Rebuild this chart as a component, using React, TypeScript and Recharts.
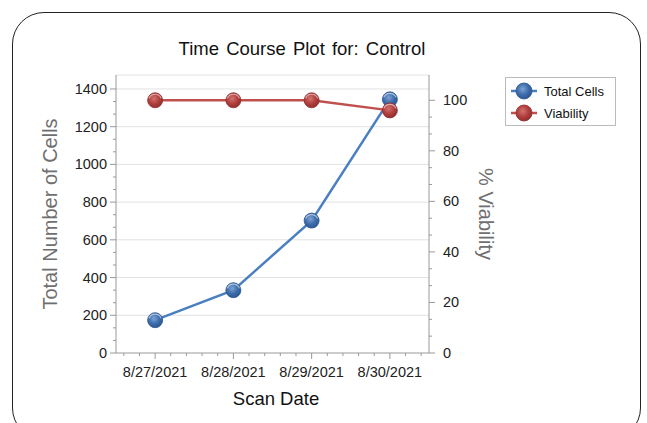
import React from "react";
import { LineChart, Line, XAxis, YAxis, CartesianGrid } from "recharts";

const scanDates = ["8/27/2021", "8/28/2021", "8/29/2021", "8/30/2021"];
const totalCells = [174, 333, 702, 1345];
const viability = [100, 100, 100, 96];

const leftTicks = [0, 200, 400, 600, 800, 1000, 1200, 1400];
const rightTicks = [0, 20, 40, 60, 80, 100];
const xTicks = [-0.4, -0.2, 0, 0.2, 0.4, 0.6, 0.8, 1, 1.2, 1.4, 1.6, 1.8, 2, 2.2, 2.4, 2.6, 2.8, 3, 3.2, 3.4];

const FONT = "'Liberation Sans', Arial, sans-serif";
const BLUE_LINE = "#4a7fc0";
const RED_LINE = "#c0504d";

const data = scanDates.map((d, i) => ({ idx: i, date: d, cells: totalCells[i], viab: viability[i] }));

// minor ticks at thirds between major ticks
const withMinor = (majors: number[]) => {
  const out: number[] = [];
  majors.forEach((m, i) => {
    out.push(m);
    if (i < majors.length - 1) {
      const step = (majors[i + 1] - m) / 3;
      out.push(m + step, m + 2 * step);
    }
  });
  return out;
};
const leftAll = withMinor(leftTicks);
const rightAll = withMinor(rightTicks);
const isMajor = (v: number, majors: number[]) => majors.some((m) => Math.abs(m - v) < 1e-6);

const LeftTick = (props: any) => {
  const { x, y, payload } = props;
  const major = isMajor(payload.value, leftTicks);
  return (
    <g>
      <line x1={x - (major ? 6 : 3)} x2={x} y1={y} y2={y} stroke="#999" />
      {major && (
        <text x={x - 9} y={y} dy={5} textAnchor="end" fontSize={14.5} fill="#222" fontFamily={FONT}>
          {payload.value}
        </text>
      )}
    </g>
  );
};

const RightTick = (props: any) => {
  const { x, y, payload } = props;
  const major = isMajor(payload.value, rightTicks);
  return (
    <g>
      <line x1={x} x2={x + (major ? 6 : 3)} y1={y} y2={y} stroke="#999" />
      {major && (
        <text x={x + 14} y={y} dy={5} textAnchor="start" fontSize={14.5} fill="#222" fontFamily={FONT}>
          {payload.value}
        </text>
      )}
    </g>
  );
};

const BottomTick = (props: any) => {
  const { x, y, payload } = props;
  const major = Math.abs(payload.value - Math.round(payload.value)) < 1e-6;
  return (
    <g>
      <line x1={x} x2={x} y1={y} y2={y + (major ? 6 : 3)} stroke="#999" />
      {major && (
        <text x={x} y={y + 24} textAnchor="middle" fontSize={14.5} fill="#222" fontFamily={FONT}>
          {scanDates[Math.round(payload.value)]}
        </text>
      )}
    </g>
  );
};

const makeDot = (grad: string, edge: string) => (props: any) => {
  const { cx, cy, index } = props;
  if (cx == null || cy == null) return <g key={index} />;
  return (
    <g key={index}>
      <circle cx={cx} cy={cy} r={7.5} fill={`url(#${grad})`} stroke={edge} strokeWidth={0.8} />
      <path
        d={`M ${cx - 6} ${cy - 2} A 6.5 6.5 0 0 1 ${cx + 6} ${cy - 2}`}
        fill="none"
        stroke="#ffffff"
        strokeOpacity={0.55}
        strokeWidth={1.2}
      />
    </g>
  );
};

const LegendMarker = ({ line, grad, edge }: { line: string; grad: string; edge: string }) => (
  <svg width={28} height={20} style={{ display: "block" }}>
    <line x1={1} x2={27} y1={10} y2={10} stroke={line} strokeWidth={2.5} />
    <circle cx={14} cy={10} r={8} fill={`url(#${grad})`} stroke={edge} strokeWidth={0.8} />
  </svg>
);

export default function App() {
  return (
    <div style={{ position: "absolute", left: 0, top: 0, width: 647, height: 423, overflow: "hidden", background: "#fff", fontFamily: FONT }}>
      <svg width={0} height={0} style={{ position: "absolute" }}>
        <defs>
          <radialGradient id="gBlue" cx="42%" cy="38%" r="65%">
            <stop offset="0%" stopColor="#7ea3d6" />
            <stop offset="55%" stopColor="#3e6dab" />
            <stop offset="100%" stopColor="#2c5690" />
          </radialGradient>
          <radialGradient id="gRed" cx="42%" cy="38%" r="65%">
            <stop offset="0%" stopColor="#d27370" />
            <stop offset="55%" stopColor="#b13f3d" />
            <stop offset="100%" stopColor="#8f2e2c" />
          </radialGradient>
        </defs>
      </svg>
      <div
        style={{
          position: "absolute",
          left: 12,
          top: 12,
          width: 627,
          height: 426,
          border: "1.5px solid #222",
          borderRadius: 32,
        }}
      />
      <div style={{ position: "absolute", left: 0, width: 604, top: 38, textAlign: "center", fontSize: 18.5, color: "#111", wordSpacing: 2 }}>
        Time Course Plot for: Control
      </div>
      <div style={{ position: "absolute", left: 0, width: 552, top: 388, textAlign: "center", fontSize: 18.5, color: "#111" }}>
        Scan Date
      </div>
      <div
        style={{
          position: "absolute",
          left: 505,
          top: 77,
          width: 111,
          height: 49,
          border: "1px solid #bbb",
          boxSizing: "border-box",
          fontSize: 13,
          color: "#111",
          padding: "2px 0 0 4px",
        }}
      >
        <div style={{ display: "flex", alignItems: "center", height: 22 }}>
          <LegendMarker line={BLUE_LINE} grad="gBlue" edge="#2c5690" />
          <span style={{ marginLeft: 6 }}>Total Cells</span>
        </div>
        <div style={{ display: "flex", alignItems: "center", height: 22 }}>
          <LegendMarker line={RED_LINE} grad="gRed" edge="#8f2e2c" />
          <span style={{ marginLeft: 6 }}>Viability</span>
        </div>
      </div>
      <div style={{ position: "absolute", left: 0, top: 0 }}>
        <LineChart width={647} height={423} data={data} margin={{ top: 75, right: 158, bottom: 0, left: 0 }}>
          <CartesianGrid
            yAxisId="left"
            vertical={false}
            horizontalValues={[200, 400, 600, 800, 1000, 1200, 1400, 1474]}
            stroke="#e2e2e2"
          />
          <XAxis
            dataKey="idx"
            type="number"
            domain={[-0.5, 3.5]}
            ticks={xTicks}
            interval={0}
            height={70}
            tickLine={false}
            tickSize={0}
            tickMargin={0}
            stroke="#999"
            tick={<BottomTick />}
          />
          <YAxis
            yAxisId="left"
            domain={[0, 1474]}
            ticks={leftAll}
            interval={0}
            width={116}
            tickLine={false}
            tickSize={0}
            tickMargin={0}
            stroke="#999"
            tick={<LeftTick />}
            label={{
              content: (p: any) => {
                const vb = p.viewBox || { x: 0, y: 75, width: 116, height: 278 };
                const cx = 50;
                const cy = vb.y + vb.height / 2;
                return (
                  <text
                    transform={`translate(${cx},${cy}) rotate(-90)`}
                    textAnchor="middle"
                    dy={7}
                    fontSize={20}
                    fill="#6f6f6f"
                    fontFamily={FONT}
                  >
                    Total Number of Cells
                  </text>
                );
              },
            }}
          />
          <YAxis
            yAxisId="right"
            orientation="right"
            domain={[0, 110]}
            ticks={rightAll}
            interval={0}
            width={60}
            tickLine={false}
            tickSize={0}
            tickMargin={0}
            stroke="#999"
            tick={<RightTick />}
            label={{
              content: (p: any) => {
                const vb = p.viewBox || { x: 429, y: 75, width: 60, height: 278 };
                const cx = 486;
                const cy = vb.y + vb.height / 2;
                return (
                  <text
                    transform={`translate(${cx},${cy}) rotate(90)`}
                    textAnchor="middle"
                    dy={7}
                    fontSize={20}
                    fill="#6f6f6f"
                    fontFamily={FONT}
                  >
                    % Viability
                  </text>
                );
              },
            }}
          />
          <Line
            yAxisId="left"
            dataKey="cells"
            stroke={BLUE_LINE}
            strokeWidth={2.5}
            dot={makeDot("gBlue", "#2c5690")}
            activeDot={false}
            isAnimationActive={false}
          />
          <Line
            yAxisId="right"
            dataKey="viab"
            stroke={RED_LINE}
            strokeWidth={2.5}
            dot={makeDot("gRed", "#8f2e2c")}
            activeDot={false}
            isAnimationActive={false}
          />
        </LineChart>
      </div>
    </div>
  );
}
